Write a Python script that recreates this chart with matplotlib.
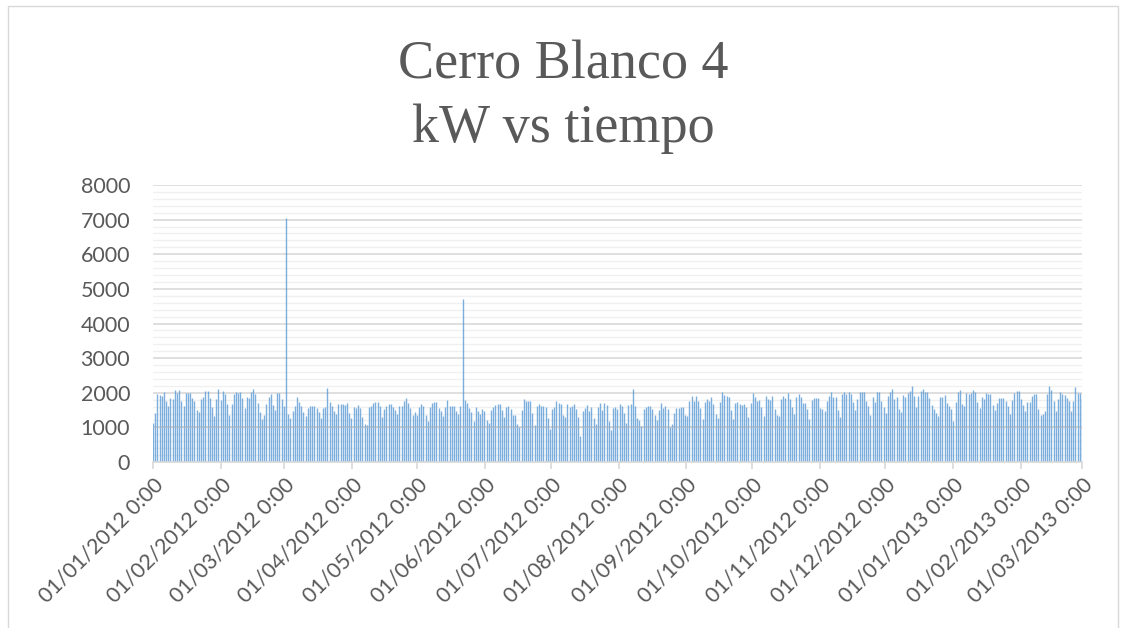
import matplotlib
matplotlib.use("Agg")
import matplotlib.pyplot as plt
import matplotlib.dates as mdates
from matplotlib.ticker import MultipleLocator
import numpy as np
import pandas as pd

# daily peak power, kW (one value per day from 01/01/2012)
kw_jan_mar12 = [1130, 1420, 1970, 1940, 1920, 2030, 1760, 1620, 1840, 1820,
                2080, 1990, 2080, 1760, 1620, 1990, 1990, 1990, 1860, 1770,
                1500, 1455, 1820, 1870, 2050, 2050, 1840, 1590, 1340, 1820,
                2110, 1800, 2050, 1960, 1670, 1360, 1680, 1960, 2010, 2000,
                2010, 1860, 1550, 1870, 1860, 2010, 2110, 1970, 1700, 1440,
                1250, 1360, 1680, 1870, 1960, 1650, 1500, 1990, 1990, 1810,
                1620, 7050, 1380, 1280, 1460, 1620, 1890, 1740, 1630, 1455,
                1340]
kw_mar_may12 = [1550, 1630, 1630, 1620, 1570, 1440, 1280, 1550, 1600, 2150,
                1730, 1630, 1460, 1380, 1680, 1680, 1670, 1650, 1700, 1410,
                1260, 1580, 1570, 1650, 1550, 1310, 1100, 1070, 1580, 1620,
                1700, 1730, 1730, 1620, 1300, 1520, 1620, 1680, 1680, 1580,
                1500, 1380, 1620, 1620, 1760, 1860, 1700, 1550, 1360, 1440,
                1360, 1580, 1670, 1620, 1360, 1170, 1600, 1700, 1730, 1730,
                1550, 1460, 1330, 1590, 1790, 1620, 1620, 1630, 1470, 1390,
                1620]
kw_may_aug12 = [4700, 1790, 1710, 1550, 1440, 1190, 1600, 1460, 1400, 1520,
                1460, 1220, 1140, 1500, 1600, 1650, 1670, 1670, 1500, 1310,
                1580, 1630, 1520, 1360, 1360, 1100, 1000, 1500, 1820, 1760,
                1770, 1760, 1410, 1070, 1630, 1670, 1620, 1630, 1600, 1260,
                950, 1520, 1580, 1760, 1710, 1670, 1360, 1310, 1680, 1580,
                1620, 1680, 1520, 1290, 740, 1460, 1570, 1650, 1460, 1580,
                1280, 1100, 1600, 1700, 1500, 1710, 1650, 1190, 930, 1570,
                1580]
kw_aug_oct12 = [1530, 1680, 1630, 1420, 1130, 1650, 1670, 2110, 1620, 1280,
                1220, 1050, 1530, 1600, 1620, 1620, 1530, 1360, 1220, 1500,
                1700, 1570, 1620, 1520, 1010, 1100, 1410, 1570, 1570, 1600,
                1580, 1360, 1330, 1770, 1920, 1750, 1920, 1760, 1550, 1230,
                1730, 1820, 1760, 1870, 1680, 1390, 1260, 1730, 2030, 1940,
                1910, 1870, 1500, 1230, 1700, 1730, 1680, 1650, 1680, 1580,
                1310, 1710, 2000, 1890, 1760, 1790, 1580, 1330, 1910, 1820,
                1790]
kw_oct_dec12 = [1910, 1520, 1360, 1330, 1820, 1920, 1860, 1990, 1820, 1580,
                1380, 1890, 1960, 1870, 1710, 1700, 1520, 1230, 1790, 1860,
                1840, 1860, 1550, 1520, 1460, 1760, 1920, 2010, 1890, 1870,
                1500, 1290, 1960, 2010, 1970, 2030, 1970, 1730, 1500, 1810,
                2030, 2030, 2030, 1750, 1620, 1360, 1870, 1730, 2030, 2010,
                1750, 1580, 1410, 1910, 2010, 2100, 1810, 1870, 1530, 1440,
                1940, 1890, 1990, 2050, 2200, 1920, 1580, 1910, 2050, 2110,
                2030]
kw_dec12_mar13 = [2010, 1860, 1650, 1520, 1420, 1330, 1870, 1870, 1940, 1710,
                  1620, 1530, 1190, 1730, 2010, 2080, 1680, 1620, 1990, 1960,
                  2000, 2080, 2030, 1730, 1550, 1870, 1810, 1990, 1970, 1960,
                  1650, 1500, 1710, 1860, 1860, 1840, 1770, 1620, 1380, 1790,
                  1990, 2050, 2050, 1820, 1650, 1470, 1730, 1730, 1910, 1960,
                  1960, 1520, 1360, 1390, 1460, 1970, 2200, 2080, 1760, 1460,
                  1820, 2030, 1960, 1940, 1840, 1770, 1460, 1760, 2180, 2000,
                  2000, 1820]

kw = (kw_jan_mar12 + kw_mar_may12 + kw_may_aug12 + kw_aug_oct12
      + kw_oct_dec12 + kw_dec12_mar13)
dias = pd.date_range("2012-01-01", "2013-03-01", periods=len(kw))

titulo = "Cerro Blanco 4\nkW vs tiempo"
gris = "#595959"

fig = plt.figure(figsize=(11.27, 6.28), dpi=100)
ax = fig.add_axes([153 / 1127, 1 - 462 / 628, (1082 - 153) / 1127, (462 - 185) / 628])

# chart area border
fig.patches.append(plt.Rectangle((8 / 1127, -0.01), 1110 / 1127, 1.0, transform=fig.transFigure,
                                 fill=False, edgecolor="#d9d9d9", linewidth=1.0))

ax.vlines(dias, 0, kw, colors="#5b9bd5", linewidth=1.0, alpha=0.8, zorder=2)

ax.set_ylim(0, 8000)
ax.set_xlim(pd.Timestamp("2012-01-01"), pd.Timestamp("2013-03-01"))
ax.yaxis.set_major_locator(MultipleLocator(1000))
ax.yaxis.set_minor_locator(MultipleLocator(200))
ax.grid(which="major", axis="y", color="#d9d9d9", linewidth=1.2)
ax.grid(which="minor", axis="y", color="#f0f0f0", linewidth=1.0)
ax.set_axisbelow(True)
# the 1000 line shows faintly through the bars
ax.axhline(1000, color="#bfbfbf", linewidth=1.0, alpha=0.5, zorder=3)

ax.xaxis.set_major_locator(mdates.MonthLocator())
ax.xaxis.set_major_formatter(mdates.DateFormatter("%d/%m/%Y 0:00"))

for s in ["top", "right", "left"]:
    ax.spines[s].set_visible(False)
ax.spines["bottom"].set_color("#d9d9d9")
ax.spines["bottom"].set_linewidth(1.2)
ax.spines["bottom"].set_zorder(4)

ax.tick_params(axis="y", which="both", length=0, pad=16.5, labelsize=15.5, labelcolor=gris)
ax.tick_params(axis="x", which="major", length=5, width=1.2, color="#d9d9d9",
               pad=4, labelsize=15.5, labelcolor=gris)
for lab in ax.get_yticklabels() + ax.get_xticklabels():
    lab.set_family("Lato")
for lab in ax.get_xticklabels():
    lab.set_rotation(45)
    lab.set_ha("right")
    lab.set_rotation_mode("anchor")

fig.text(0.5, 1 - 97 / 628, titulo, ha="center", va="center", fontsize=39,
         color=gris, family="Liberation Serif", linespacing=1.32)

fig.savefig("out.png", dpi=100)
